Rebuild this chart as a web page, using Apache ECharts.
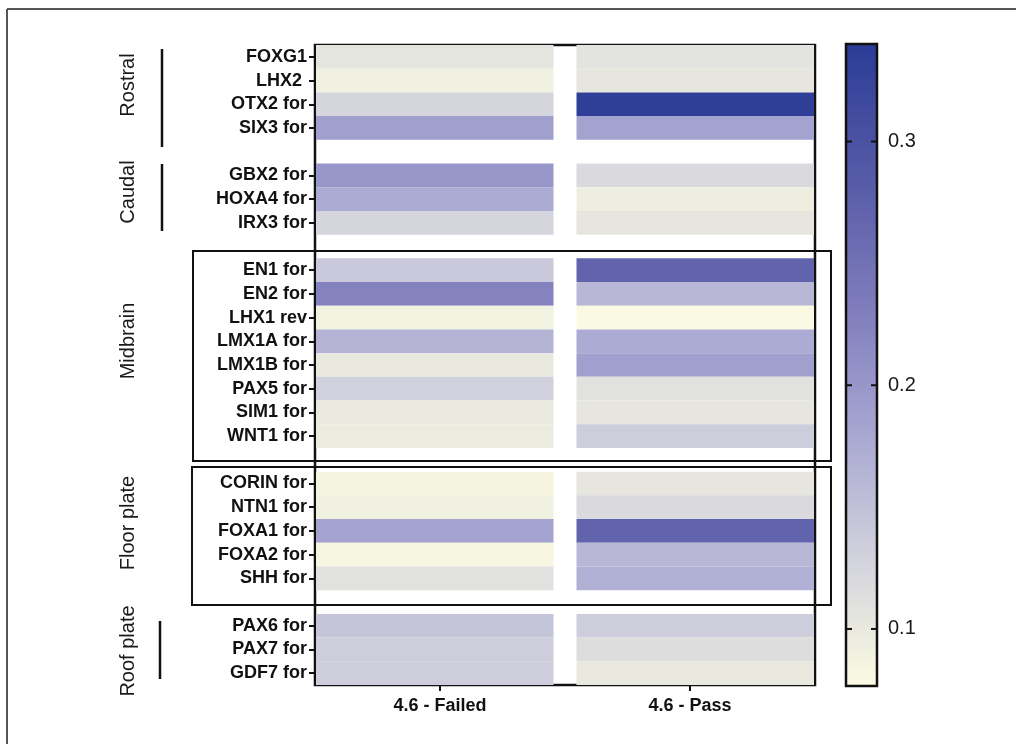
<!DOCTYPE html>
<html><head><meta charset="utf-8">
<script src="https://cdn.jsdelivr.net/npm/echarts@6/dist/echarts.min.js"></script>
<style>html,body{margin:0;padding:0;background:#fff}#c{width:1016px;height:744px}</style>
</head><body><div id="c"></div>
<script>
// ---- data ----
const conditions = ['4.6 - Failed', '4.6 - Pass'];
const rowLabels = ['FOXG1', 'LHX2 ', 'OTX2 for', 'SIX3 for', '',
  'GBX2 for', 'HOXA4 for', 'IRX3 for', '',
  'EN1 for', 'EN2 for', 'LHX1 rev', 'LMX1A for', 'LMX1B for', 'PAX5 for', 'SIM1 for', 'WNT1 for', '',
  'CORIN for', 'NTN1 for', 'FOXA1 for', 'FOXA2 for', 'SHH for', '',
  'PAX6 for', 'PAX7 for', 'GDF7 for'];
const failedValues = [0.105, 0.090, 0.125, 0.190, null,
  0.200, 0.175, 0.125, null,
  0.140, 0.225, 0.088, 0.165, 0.100, 0.130, 0.098, 0.097, null,
  0.085, 0.090, 0.185, 0.083, 0.110, null,
  0.145, 0.135, 0.135];
const passValues = [0.108, 0.103, 0.335, 0.185, null,
  0.120, 0.093, 0.103, null,
  0.270, 0.160, 0.078, 0.175, 0.190, 0.110, 0.104, 0.135, null,
  0.104, 0.120, 0.270, 0.160, 0.170, null,
  0.135, 0.115, 0.100];
const groupNames = ['Rostral', 'Caudal', 'Midbrain', 'Floor plate', 'Roof plate'];
const colorTicks = [0.1, 0.2, 0.3];
const colorMin = 0.0766, colorMax = 0.340;

// ---- build ----
const cells = [];
[failedValues, passValues].forEach((vals, xi) => {
  vals.forEach((v, yi) => { if (v !== null) cells.push([xi, yi, v]); });
});

function renderCell(params, api) {
  const xi = api.value(0), yi = api.value(1);
  const c = api.coord([xi, yi]);
  const s = api.size([1, 1]);
  const bw = s[0], bh = s[1];
  const gap = bw * 0.046;
  let x0 = c[0] - bw / 2 + 1, w = bw - gap - 1;
  if (xi === 1) { x0 = c[0] - bw / 2 + gap; w = bw - gap - 1; }
  return { type: 'rect', shape: { x: x0, y: c[1] - bh / 2, width: w, height: bh },
    style: { fill: api.visual('color') } };
}

const boldFont = { fontFamily: 'Liberation Sans', fontWeight: 'bold', fontSize: 18, color: '#111' };
const grpFont = { fontFamily: 'Liberation Sans', fontSize: 20, fill: '#1a1a1a' };

const groupText = [
  [groupNames[0], 128, 85], [groupNames[1], 128, 192], [groupNames[2], 128, 341],
  [groupNames[3], 128, 523], [groupNames[4], 128, 651]
];
const graphics = [
  { type: 'line', shape: { x1: 7, y1: 9, x2: 1016, y2: 9 }, style: { stroke: '#555', lineWidth: 2 } },
  { type: 'line', shape: { x1: 7, y1: 9, x2: 7, y2: 744 }, style: { stroke: '#555', lineWidth: 2 } },
  { type: 'line', shape: { x1: 162, y1: 49, x2: 162, y2: 147 }, style: { stroke: '#111', lineWidth: 2.5 } },
  { type: 'line', shape: { x1: 162, y1: 164, x2: 162, y2: 231 }, style: { stroke: '#111', lineWidth: 2.5 } },
  { type: 'line', shape: { x1: 160, y1: 621, x2: 160, y2: 679 }, style: { stroke: '#111', lineWidth: 2.5 } },
  { type: 'rect', shape: { x: 193, y: 251, width: 638, height: 210 }, style: { fill: null, stroke: '#111', lineWidth: 2 }, z: 100 },
  { type: 'rect', shape: { x: 192, y: 467, width: 639, height: 138 }, style: { fill: null, stroke: '#111', lineWidth: 2 }, z: 100 }
];
groupText.forEach(([t, x, y]) => graphics.push({
  type: 'text', x: x, y: y, rotation: Math.PI / 2,
  style: Object.assign({ text: t, align: 'center', verticalAlign: 'middle' }, grpFont)
}));

const tickStyle = { color: '#111', width: 2 };
const cbLeft = 846, cbWidth = 31;
const chart = echarts.init(document.getElementById('c'), null, { renderer: 'canvas' });
chart.setOption({
  animation: false,
  backgroundColor: '#fff',
  grid: [
    { left: 315, top: 45, width: 500, height: 640, show: true, borderColor: '#111', borderWidth: 2.5, backgroundColor: 'transparent' },
    { left: cbLeft, top: 44, width: cbWidth, height: 642, show: true, borderColor: '#111', borderWidth: 2.5, backgroundColor: 'transparent', z: 10 }
  ],
  xAxis: [
    { type: 'category', gridIndex: 0, data: conditions,
      axisLine: { show: false }, splitLine: { show: false },
      axisTick: { show: true, alignWithLabel: true, length: 6, lineStyle: tickStyle },
      axisLabel: Object.assign({ margin: 12 }, boldFont) },
    { type: 'value', gridIndex: 1, show: false, min: 0, max: 1 }
  ],
  yAxis: [
    { type: 'category', gridIndex: 0, data: rowLabels, inverse: true,
      axisLine: { show: false }, splitLine: { show: false },
      axisTick: { show: true, alignWithLabel: true, length: 6, lineStyle: tickStyle,
        interval: (i, v) => rowLabels[i] !== '' },
      axisLabel: Object.assign({ margin: 8, interval: 0 }, boldFont) },
    { type: 'value', gridIndex: 1, position: 'right', min: colorMin, max: colorMax,
      axisLine: { show: false }, splitLine: { show: false },
      axisTick: { show: false },
      axisLabel: { show: true, customValues: colorTicks, margin: 11, formatter: v => v.toFixed(1),
        fontFamily: 'Liberation Sans', fontSize: 20, color: '#1a1a1a' } }
  ],
  visualMap: {
    type: 'continuous', min: colorMin, max: colorMax, dimension: 2, seriesIndex: 0, z: 0,
    show: true, calculable: false, orient: 'vertical', left: cbLeft, top: 44, padding: 0,
    itemWidth: cbWidth, itemHeight: 642, text: null, showLabel: false,
    inRange: { color: ['#fbfbe2', '#d2d2dd', '#a6a5d1', '#7d7bbb', '#5459a6', '#2b3c96'] }
  },
  series: [{
    type: 'custom', xAxisIndex: 0, yAxisIndex: 0, data: cells, renderItem: renderCell,
    encode: { x: 0, y: 1 }
  }],
  graphic: graphics
});

// colour-bar tick marks on both inner edges, placed by the colour axis scale
colorTicks.forEach(v => {
  const y = chart.convertToPixel({ yAxisIndex: 1 }, v);
  graphics.push({ type: 'line', z: 200, shape: { x1: cbLeft, y1: y, x2: cbLeft + 6, y2: y }, style: { stroke: '#111', lineWidth: 2 } });
  graphics.push({ type: 'line', z: 200, shape: { x1: cbLeft + cbWidth - 6, y1: y, x2: cbLeft + cbWidth, y2: y }, style: { stroke: '#111', lineWidth: 2 } });
});
chart.setOption({ graphic: graphics }, { replaceMerge: ['graphic'] });
</script></body></html>
